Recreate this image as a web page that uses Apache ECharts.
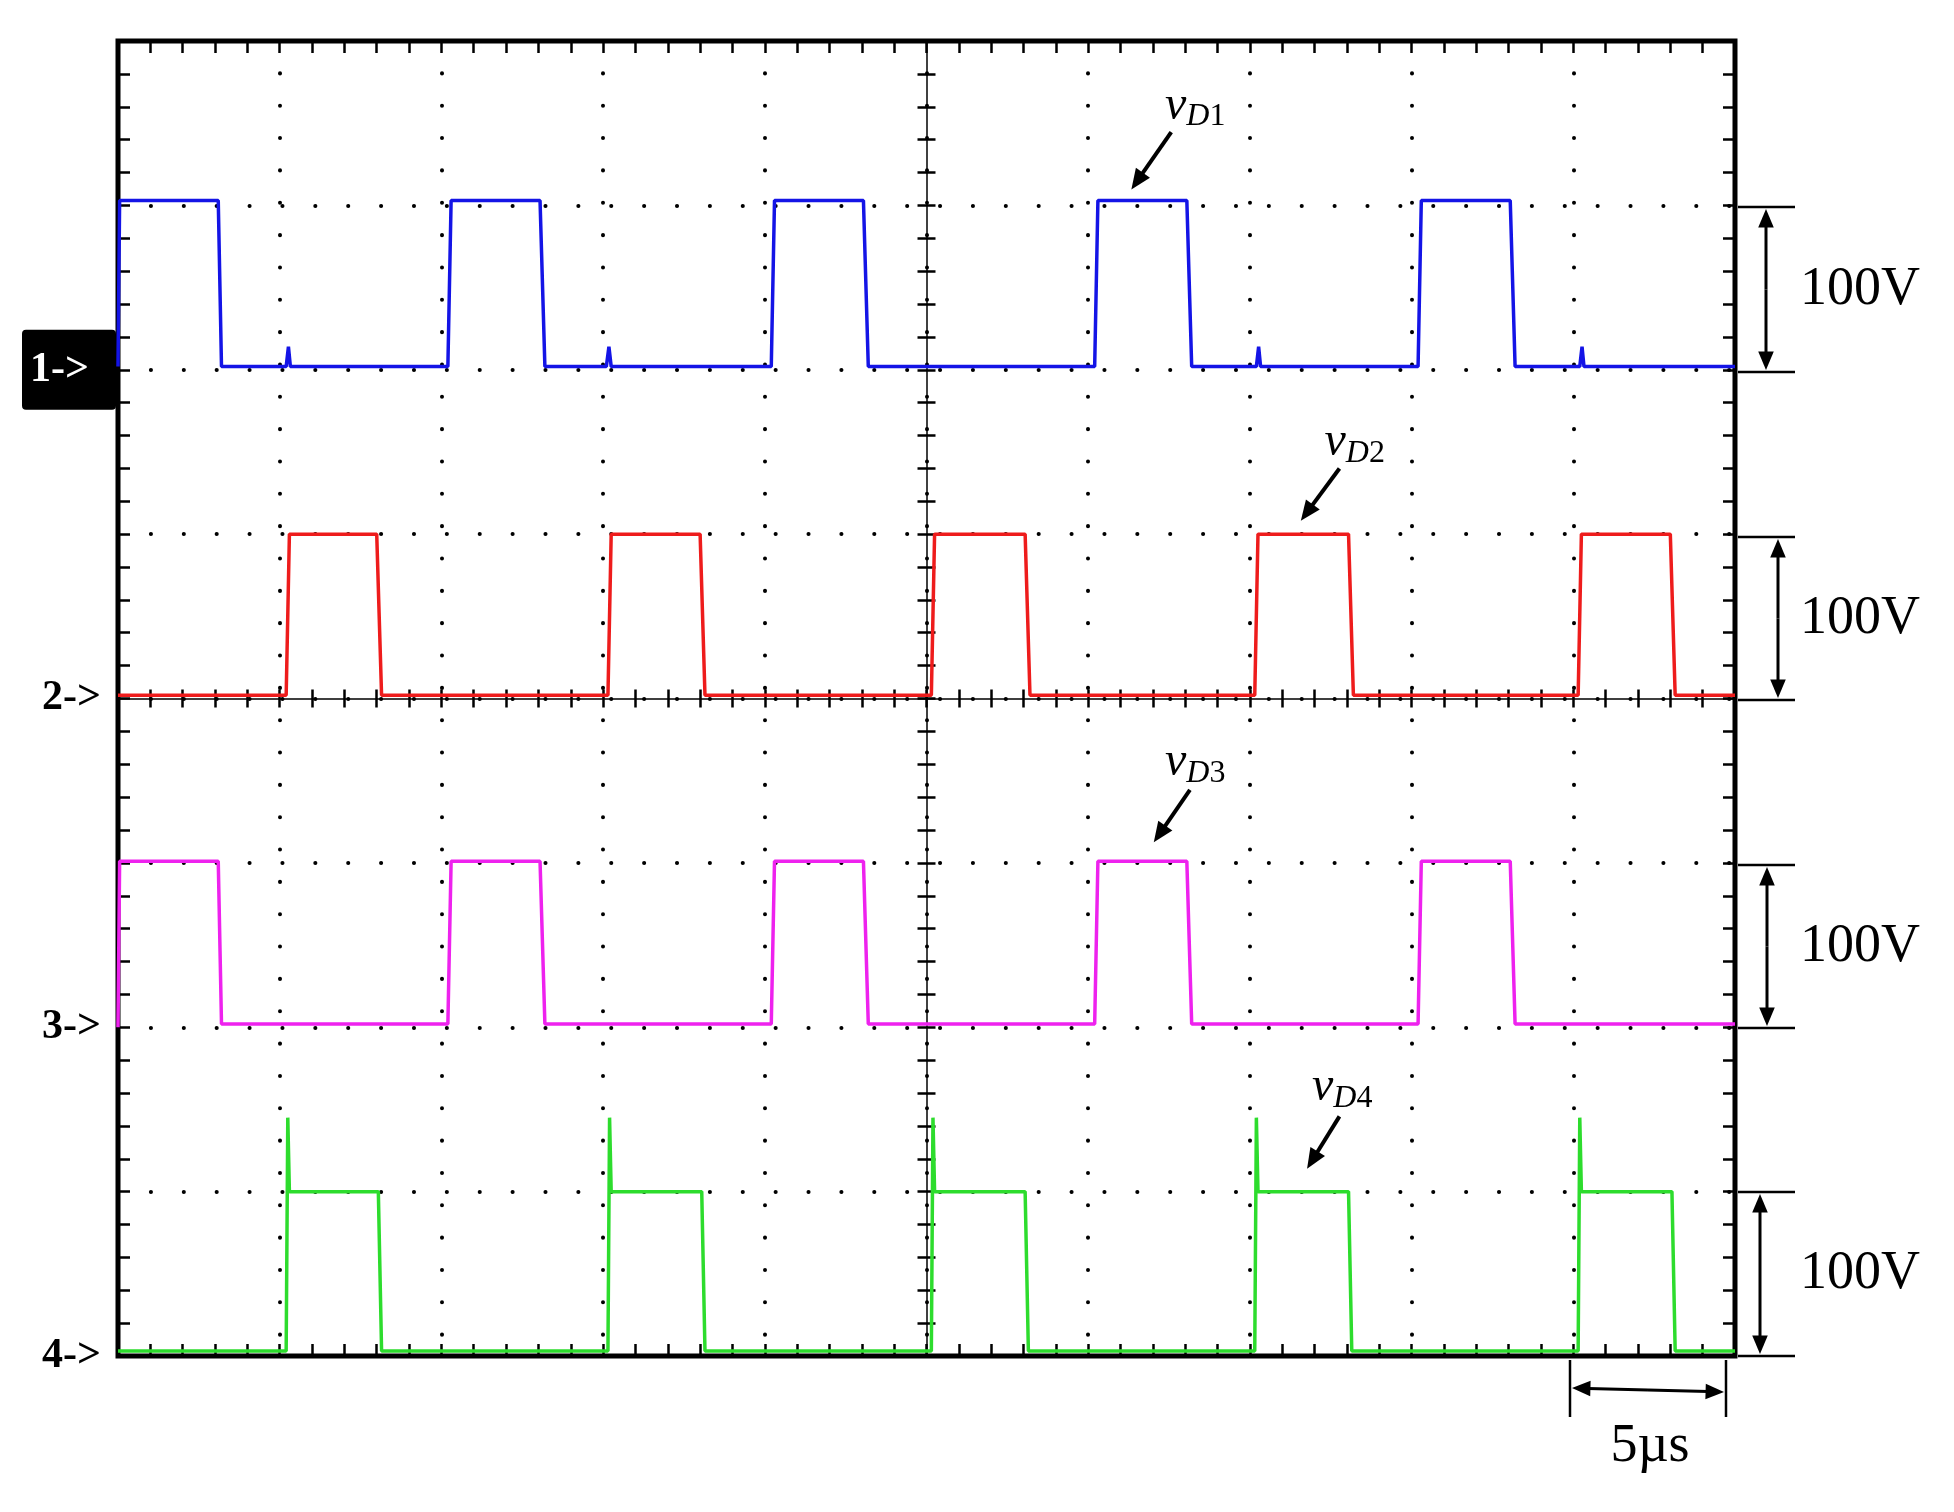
<!DOCTYPE html>
<html>
<head>
<meta charset="utf-8">
<script src="https://cdn.jsdelivr.net/npm/echarts@6/dist/echarts.min.js"></script>
<style>html,body{margin:0;padding:0;background:#fff}#c{width:1954px;height:1512px}</style>
</head>
<body>
<div id="c"></div>
<script>
// time in µs (5 µs/div), voltage in divisions above each channel's ground (100 V/div)
const ch1 = [[0,0.02],[0.05,1.03],[3.1,1.03],[3.2,0.02],[5.2,0.02],[5.27,0.14],[5.33,0.02],[10.2,0.02],[10.3,1.03],[13.05,1.03],[13.2,0.02],[15.1,0.02],[15.18,0.14],[15.25,0.02],[20.2,0.02],[20.3,1.03],[23.05,1.03],[23.2,0.02],[30.2,0.02],[30.3,1.03],[33.05,1.03],[33.2,0.02],[35.2,0.02],[35.27,0.14],[35.33,0.02],[40.2,0.02],[40.3,1.03],[43.05,1.03],[43.2,0.02],[45.2,0.02],[45.27,0.14],[45.33,0.02],[50,0.02]];
const ch2 = [[0,0.02],[5.2,0.02],[5.3,1.0],[8.0,1.0],[8.15,0.02],[15.15,0.02],[15.25,1.0],[18.0,1.0],[18.15,0.02],[25.15,0.02],[25.25,1.0],[28.05,1.0],[28.2,0.02],[35.15,0.02],[35.25,1.0],[38.05,1.0],[38.2,0.02],[45.15,0.02],[45.25,1.0],[48.0,1.0],[48.15,0.02],[50,0.02]];
const ch3 = [[0,0],[0.05,1.01],[3.1,1.01],[3.2,0.02],[10.2,0.02],[10.3,1.01],[13.05,1.01],[13.2,0.02],[20.2,0.02],[20.3,1.01],[23.05,1.01],[23.2,0.02],[30.2,0.02],[30.3,1.01],[33.05,1.01],[33.2,0.02],[40.2,0.02],[40.3,1.01],[43.05,1.01],[43.2,0.02],[50,0.02]];
const ch4 = [[0,0.03],[5.2,0.03],[5.25,1.45],[5.3,1.0],[8.05,1.0],[8.15,0.03],[15.15,0.03],[15.2,1.45],[15.25,1.0],[18.05,1.0],[18.15,0.03],[25.15,0.03],[25.2,1.45],[25.25,1.0],[28.05,1.0],[28.15,0.03],[35.15,0.03],[35.2,1.45],[35.25,1.0],[38.05,1.0],[38.15,0.03],[45.15,0.03],[45.2,1.45],[45.25,1.0],[48.05,1.0],[48.15,0.03],[50,0.03]];
const groundLevels = [6, 4, 2, 0];
const traceColors = ['#1414e6', '#ee1c1c', '#ee22ee', '#2ddc2d'];
const labels = ['1', '2', '3', '4'];

const S = 1.246; // reference sketch scale
const P = v => v * S;
const chart = echarts.init(document.getElementById('c'));

const G = { left: 118, top: 41, width: 1617, height: 1315 };
const serif = '"Liberation Serif", "DejaVu Serif", serif';

function arrow(x1, y1, x2, y2, w, head) {
  const a = Math.atan2(y2 - y1, x2 - x1), h = head || 18, s = 0.4;
  return [
    { type: 'line', shape: { x1, y1, x2: x2 - Math.cos(a) * h * 0.8, y2: y2 - Math.sin(a) * h * 0.8 }, style: { stroke: '#000', lineWidth: w || 3 } },
    { type: 'polygon', shape: { points: [[x2, y2], [x2 - h * Math.cos(a - s), y2 - h * Math.sin(a - s)], [x2 - h * Math.cos(a + s), y2 - h * Math.sin(a + s)]] }, style: { fill: '#000' } }
  ];
}
function scaleBar(yTop, yBot, xArr) {
  return [
    { type: 'line', shape: { x1: 1738, y1: yTop, x2: 1795, y2: yTop }, style: { stroke: '#000', lineWidth: 2.5 } },
    { type: 'line', shape: { x1: 1738, y1: yBot, x2: 1795, y2: yBot }, style: { stroke: '#000', lineWidth: 2.5 } },
    ...arrow(xArr, (yTop + yBot) / 2, xArr, yTop + 2, 3, 20),
    ...arrow(xArr, (yTop + yBot) / 2, xArr, yBot - 2, 3, 20),
    { type: 'text', x: 1800, y: (yTop + yBot) / 2, style: { text: '100V', font: '54px ' + serif, fill: '#000', verticalAlign: 'middle' } }
  ];
}
function vLabel(n, tx, ty, ax1, ay1, ax2, ay2) {
  return [
    { type: 'text', x: P(tx), y: P(ty), style: { rich: { v: { fontFamily: serif, fontStyle: 'italic', fontSize: 48 }, d: { fontFamily: serif, fontStyle: 'italic', fontSize: 32, padding: [22, 0, 0, 0] }, n: { fontFamily: serif, fontSize: 32, padding: [22, 0, 0, 0] } }, text: '{v|v}{d|D}{n|' + n + '}', verticalAlign: 'middle', fill: '#000' } },
    ...arrow(P(ax1), P(ay1), P(ax2), P(ay2), 4, 22)
  ];
}
function chanMark(i, y) {
  const t = { type: 'text', x: i === 0 ? 30 : 42, y, style: { text: labels[i] + '->', font: 'bold 42px ' + serif, fill: i === 0 ? '#fff' : '#000', verticalAlign: 'middle' } };
  if (i !== 0) return [t];
  return [{ type: 'rect', shape: { x: 22, y: y - 40, width: 94, height: 80, r: 4 }, style: { fill: '#000' } }, t];
}

const gridY = i => G.top + G.height * (8 - groundLevels[i]) / 8;
const graphic = [
  ...scaleBar(207, 372, 1766), ...scaleBar(537, 700, 1778), ...scaleBar(865, 1028, 1767), ...scaleBar(1192, 1356, 1760),
  { type: 'line', shape: { x1: 1570, y1: 1360, x2: 1570, y2: 1417 }, style: { stroke: '#000', lineWidth: 2.5 } },
  { type: 'line', shape: { x1: 1726, y1: 1360, x2: 1726, y2: 1417 }, style: { stroke: '#000', lineWidth: 2.5 } },
  ...arrow(1648, 1390, 1572, 1388, 3, 20), ...arrow(1648, 1390, 1724, 1392, 3, 20),
  { type: 'text', x: 1650, y: 1447, style: { text: '5µs', font: '54px ' + serif, fill: '#000', align: 'center', verticalAlign: 'middle' } },
  ...vLabel('1', 935, 85, 940, 106, 908, 152),
  ...vLabel('2', 1063, 355, 1075, 376, 1044, 418),
  ...vLabel('3', 935, 612, 955, 634, 926, 676),
  ...vLabel('4', 1053, 873, 1075, 896, 1049, 938),
  ...labels.flatMap((l, i) => chanMark(i, gridY(i)))
];

const tickStyle = { color: '#000', width: 2.5 };
// helper: an axis used only to draw ticks (no labels, no grid)
function tickAxis(kind, position, offset, inside, len, showLine) {
  const base = kind === 'x' ? { min: 0, max: 50, interval: 5 } : { min: 0, max: 8, interval: 1 };
  return {
    type: 'value', ...base, position, offset,
    axisLabel: { show: false },
    axisLine: { show: !!showLine, onZero: false, lineStyle: { color: '#000', width: 1.5 } },
    axisTick: { inside, length: len, lineStyle: tickStyle },
    minorTick: { show: true, splitNumber: 5, length: len, lineStyle: tickStyle },
    splitLine: { show: false }
  };
}
const dotStyle = { color: '#000', width: 4, cap: 'round', type: [0.1, 32.24], dashOffset: 0 };
const option = {
  animation: false,
  grid: { ...G, show: true, borderColor: '#000', borderWidth: 5 },
  xAxis: [
    { ...tickAxis('x', 'top', -G.height, false, 12), splitLine: { show: true, lineStyle: dotStyle } },
    tickAxis('x', 'bottom', -G.height / 2, true, 9, true),
    tickAxis('x', 'top', -G.height / 2, true, 9),
    tickAxis('x', 'top', 0, true, 12)
  ],
  yAxis: [
    { ...tickAxis('y', 'right', -G.width, false, 12), splitLine: { show: true, lineStyle: { ...dotStyle, type: [0.1, 32.78] } } },
    tickAxis('y', 'left', -G.width / 2, true, 9, true),
    tickAxis('y', 'right', -G.width / 2, true, 9),
    tickAxis('y', 'right', 0, true, 12)
  ],
  series: [ch1, ch2, ch3, ch4].map((d, i) => ({
    type: 'line', symbol: 'none', z: 5,
    data: d.map(p => [p[0], p[1] + groundLevels[i]]),
    lineStyle: { color: traceColors[i], width: 3.5 }
  })),
  graphic
};
chart.setOption(option);
</script>
</body>
</html>
